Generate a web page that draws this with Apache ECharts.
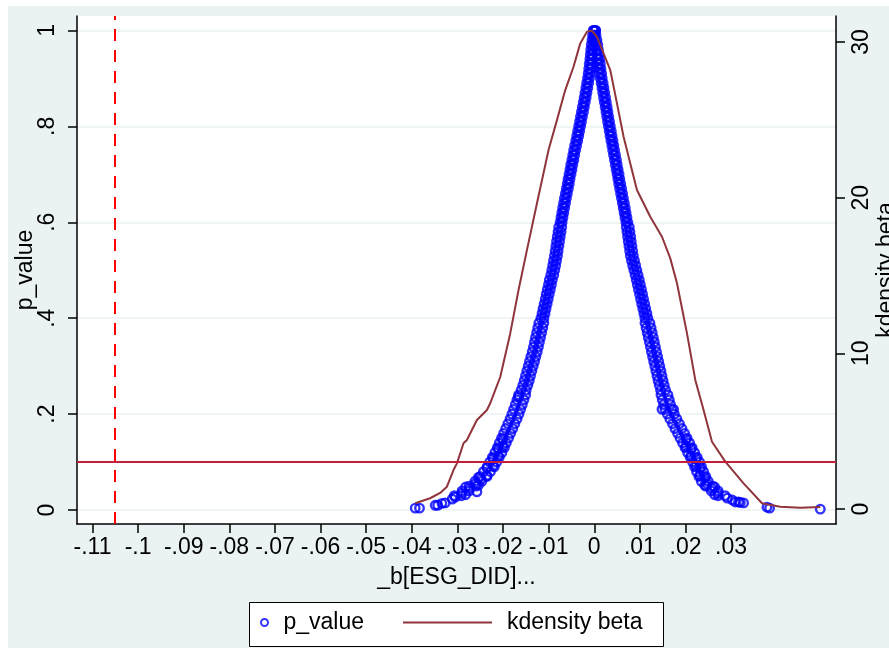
<!DOCTYPE html>
<html>
<head>
<meta charset="utf-8">
<script src="https://cdn.jsdelivr.net/npm/echarts@6/dist/echarts.min.js"></script>
<style>html,body{margin:0;padding:0;background:#fff}#chart{width:889px;height:648px}</style>
</head>
<body>
<div id="chart"></div>
<script>
// ---- axis ticks ----
const xTickValues = [-0.11,-0.1,-0.09,-0.08,-0.07,-0.06,-0.05,-0.04,-0.03,-0.02,-0.01,0,0.01,0.02,0.03];
const xTickLabels = ["-.11","-.1","-.09","-.08","-.07","-.06","-.05","-.04","-.03","-.02","-.01","0",".01",".02",".03"];
const yTickValues = [0,0.2,0.4,0.6,0.8,1];
const yTickLabels = ["0",".2",".4",".6",".8","1"];
const y2TickValues = [0,10,20,30];
const y2TickLabels = ["0","10","20","30"];

// ---- reference lines ----
const betaObserved = -0.1052;
const pCutoff = 0.1;

// ---- p_value scatter ----
const pLevels = [1.00,0.99,0.98,0.97,0.96,0.95,0.94,0.93,0.92,0.91,
0.90,0.89,0.88,0.87,0.86,0.85,0.84,0.83,0.82,0.81,
0.80,0.79,0.78,0.77,0.76,0.75,0.74,0.73,0.72,0.71,
0.70,0.69,0.68,0.67,0.66,0.65,0.64,0.63,0.62,0.61,
0.60,0.59,0.58,0.57,0.56,0.55,0.54,0.53,0.52,0.51,
0.50,0.49,0.48,0.47,0.46,0.45,0.44,0.43,0.42,0.41,
0.40,0.39,0.38,0.37,0.36,0.35,0.34,0.33,0.32,0.31,
0.30,0.29,0.28,0.27,0.26,0.25,0.24,0.23,0.22,0.21,
0.20,0.19,0.18,0.17,0.16,0.15,0.14,0.13,0.12,0.11,
0.10,0.09,0.08,0.07,0.06,0.05,0.04,0.03];
const leftOuterBeta = [-0.00022,-0.00037,-0.00050,-0.00066,-0.00077,-0.00086,-0.00096,-0.00110,-0.00121,-0.00134,
-0.00149,-0.00167,-0.00184,-0.00204,-0.00221,-0.00241,-0.00261,-0.00281,-0.00303,-0.00322,
-0.00342,-0.00364,-0.00384,-0.00406,-0.00430,-0.00452,-0.00471,-0.00491,-0.00515,-0.00533,
-0.00553,-0.00575,-0.00592,-0.00612,-0.00634,-0.00654,-0.00673,-0.00693,-0.00711,-0.00730,
-0.00748,-0.00779,-0.00794,-0.00811,-0.00827,-0.00842,-0.00857,-0.00873,-0.00893,-0.00912,
-0.00932,-0.00954,-0.00985,-0.01004,-0.01029,-0.01053,-0.01075,-0.01099,-0.01123,-0.01145,
-0.01169,-0.01215,-0.01239,-0.01263,-0.01287,-0.01311,-0.01333,-0.01360,-0.01390,-0.01419,
-0.01447,-0.01478,-0.01507,-0.01535,-0.01566,-0.01603,-0.01658,-0.01695,-0.01730,-0.01768,
-0.01805,-0.01846,-0.01895,-0.01941,-0.01987,-0.02033,-0.02081,-0.02125,-0.02178,-0.02235,
-0.02292,-0.02346,-0.02430,-0.02504,-0.02616,-0.02743,-0.02897,-0.03068];
const leftInnerBeta = [0.00022,0.00007,-0.00007,-0.00022,-0.00033,-0.00042,-0.00053,-0.00066,-0.00077,-0.00090,
-0.00105,-0.00123,-0.00140,-0.00160,-0.00178,-0.00197,-0.00217,-0.00237,-0.00259,-0.00279,
-0.00298,-0.00320,-0.00340,-0.00362,-0.00386,-0.00408,-0.00428,-0.00447,-0.00471,-0.00489,
-0.00509,-0.00531,-0.00548,-0.00568,-0.00590,-0.00610,-0.00629,-0.00649,-0.00667,-0.00686,
-0.00704,-0.00713,-0.00728,-0.00746,-0.00761,-0.00776,-0.00792,-0.00807,-0.00827,-0.00846,
-0.00866,-0.00888,-0.00919,-0.00939,-0.00963,-0.00987,-0.01009,-0.01033,-0.01057,-0.01079,
-0.01103,-0.01105,-0.01129,-0.01154,-0.01178,-0.01202,-0.01224,-0.01250,-0.01281,-0.01309,
-0.01338,-0.01368,-0.01397,-0.01425,-0.01456,-0.01493,-0.01504,-0.01542,-0.01577,-0.01614,
-0.01651,-0.01693,-0.01741,-0.01787,-0.01833,-0.01879,-0.01928,-0.01971,-0.02024,-0.02081,
-0.02138,-0.02193,-0.02276,-0.02351,-0.02463,-0.02590,-0.02743,-0.02914];
const rightInnerBeta = [-0.00011,-0.00004,0.00015,0.00033,0.00046,0.00061,0.00075,0.00090,0.00103,0.00118,
0.00132,0.00151,0.00169,0.00186,0.00204,0.00221,0.00239,0.00257,0.00274,0.00292,
0.00309,0.00329,0.00346,0.00366,0.00386,0.00404,0.00423,0.00443,0.00461,0.00480,
0.00500,0.00518,0.00537,0.00557,0.00577,0.00596,0.00616,0.00636,0.00654,0.00673,
0.00693,0.00702,0.00717,0.00732,0.00746,0.00761,0.00776,0.00792,0.00816,0.00842,
0.00868,0.00895,0.00921,0.00945,0.00969,0.00993,0.01015,0.01039,0.01064,0.01088,
0.01110,0.01112,0.01136,0.01160,0.01184,0.01208,0.01232,0.01254,0.01279,0.01303,
0.01327,0.01351,0.01375,0.01399,0.01425,0.01454,0.01463,0.01491,0.01520,0.01550,
0.01603,0.01658,0.01715,0.01770,0.01827,0.01882,0.01936,0.01991,0.02046,0.02103,
0.02156,0.02200,0.02243,0.02294,0.02346,0.02445,0.02564,0.02715];
const rightOuterBeta = [0.00033,0.00039,0.00059,0.00077,0.00090,0.00105,0.00118,0.00134,0.00147,0.00162,
0.00175,0.00195,0.00213,0.00230,0.00248,0.00265,0.00283,0.00300,0.00318,0.00336,
0.00353,0.00373,0.00390,0.00410,0.00430,0.00447,0.00467,0.00487,0.00504,0.00524,
0.00544,0.00561,0.00581,0.00601,0.00621,0.00640,0.00660,0.00680,0.00697,0.00717,
0.00737,0.00768,0.00783,0.00798,0.00811,0.00827,0.00842,0.00857,0.00882,0.00908,
0.00934,0.00961,0.00987,0.01011,0.01035,0.01059,0.01081,0.01105,0.01129,0.01154,
0.01175,0.01221,0.01246,0.01270,0.01294,0.01318,0.01342,0.01364,0.01388,0.01412,
0.01436,0.01461,0.01485,0.01509,0.01535,0.01564,0.01616,0.01645,0.01673,0.01704,
0.01757,0.01811,0.01868,0.01923,0.01980,0.02035,0.02090,0.02145,0.02200,0.02257,
0.02309,0.02353,0.02397,0.02447,0.02500,0.02599,0.02717,0.02868];
const leftExtra = [[-0.02478,0.065],[-0.02603,0.055],[-0.02741,0.045],[-0.02906,0.035],[-0.03048,0.027],
[-0.03114,0.023],[-0.03268,0.015],[-0.03340,0.014],[-0.03432,0.010],[-0.03487,0.010],
[-0.03831,0.004],[-0.03925,0.004],[-0.01660,0.236],[-0.02572,0.038],
[-0.02004,0.148],[-0.02004,0.132],[-0.02101,0.128],[-0.02101,0.112],[-0.02215,0.108],[-0.02215,0.092],
[-0.02353,0.088],[-0.02353,0.072],[-0.02539,0.068],[-0.02539,0.052],[-0.02820,0.048],[-0.02820,0.032]];
const rightExtra = [[0.02471,0.055],[0.02577,0.045],[0.02715,0.035],[0.02917,0.025],[0.03026,0.021],
[0.03092,0.017],[0.03164,0.017],[0.03202,0.016],[0.03274,0.015],[0.03787,0.006],[0.03844,0.004],
[0.04956,0.002],[0.01485,0.210],[0.01739,0.210],
[0.02013,0.148],[0.02013,0.132],[0.02123,0.128],[0.02123,0.112],[0.02232,0.108],[0.02232,0.092],
[0.02320,0.088],[0.02320,0.072],[0.02423,0.068],[0.02423,0.052],[0.02640,0.048],[0.02640,0.032]];

// ---- kdensity beta ----
const kdBeta = [-0.03925,-0.0360,-0.03377,-0.0323,-0.03086,-0.0301,-0.02866,-0.02792,-0.02572,-0.02353,
-0.02281,-0.02171,-0.02061,-0.01842,-0.0166,-0.01476,-0.01257,-0.01002,-0.00818,-0.00636,
-0.00454,-0.00307,-0.0016,-0.0005,0.00059,0.00204,0.00351,0.00498,0.00643,0.0079,
0.00936,0.01228,0.01485,0.01667,0.01814,0.02033,0.02215,0.02397,0.02581,0.02873,
0.03274,0.03678,0.04079,0.04518,0.04956];
const kdDensity = [0.37,0.69,1.03,1.43,2.50,2.93,4.22,4.43,5.72,6.36,
6.79,7.64,8.48,11.28,14.07,16.63,19.63,23.06,24.98,26.91,
28.41,29.91,30.66,30.72,30.33,29.27,28.20,26.06,23.91,22.20,
20.49,18.77,17.49,16.10,14.50,11.28,8.29,6.36,4.32,3.04,
1.65,0.37,0.15,0.08,0.13];

// ---- build ----
const scatterData = [];
pLevels.forEach((p, i) => {
  scatterData.push([leftOuterBeta[i], p], [leftInnerBeta[i], p], [rightInnerBeta[i], p], [rightOuterBeta[i], p]);
});
leftExtra.forEach(d => scatterData.push(d));
rightExtra.forEach(d => scatterData.push(d));
const kdData = kdBeta.map((b, i) => [b, kdDensity[i]]);

const FONT = "'Liberation Sans', Arial, sans-serif";
const FS = 23;
function lookup(values, labels) {
  return v => { for (let i = 0; i < values.length; i++) { if (Math.abs(values[i] - v) < 1e-9) return labels[i]; } return ''; };
}
const axisLineStyle = { color: '#000', width: 1.5 };
const txt = { fontSize: FS, color: '#000', fontFamily: FONT };

const chart = echarts.init(document.getElementById('chart'), null, { renderer: 'canvas' });
chart.setOption({
  animation: false,
  backgroundColor: '#EAF2F3',
  grid: { left: 77, right: 53, top: 16, bottom: 124, show: true, backgroundColor: '#fff', borderWidth: 0, containLabel: false, outerBoundsMode: 'none' },
  graphic: [
    { type: 'rect', shape: { x: 0, y: 0, width: 889, height: 6 }, style: { fill: '#fff' }, silent: true },
    { type: 'rect', shape: { x: 0, y: 0, width: 8, height: 648 }, style: { fill: '#fff' }, silent: true },
    { type: 'rect', shape: { x: 249.5, y: 602.5, width: 414, height: 44 }, style: { fill: '#fff', stroke: '#000', lineWidth: 1 }, silent: true }
  ],
  legend: [
    { data: ['p_value'], left: 260, top: 611, padding: 0, itemWidth: 28, itemHeight: 7, selectedMode: false, textStyle: txt },
    { data: [{ name: 'kdensity beta', icon: 'rect' }], left: 403, top: 611, padding: 0, itemWidth: 89, itemHeight: 2, selectedMode: false,
      itemStyle: { color: '#90353B', borderWidth: 0 }, textStyle: Object.assign({ padding: [0, 0, 0, 10] }, txt) }
  ],
  xAxis: {
    type: 'value', min: -0.1134, max: 0.0530,
    axisLine: { show: true, onZero: false, lineStyle: axisLineStyle },
    axisTick: { show: true, length: 9, customValues: xTickValues, lineStyle: axisLineStyle },
    axisLabel: Object.assign({ customValues: xTickValues, formatter: lookup(xTickValues, xTickLabels), margin: 12 }, txt),
    splitLine: { show: false },
    name: '_b[ESG_DID]...', nameLocation: 'middle', nameGap: 42, nameMoveOverlap: false, nameTextStyle: txt
  },
  yAxis: [
    {
      type: 'value', min: -0.029, max: 1.030, position: 'left',
      axisLine: { show: true, onZero: false, lineStyle: axisLineStyle },
      axisTick: { show: true, length: 9, customValues: yTickValues, lineStyle: axisLineStyle },
      axisLabel: Object.assign({ customValues: yTickValues, formatter: lookup(yTickValues, yTickLabels), rotate: 90, margin: 18 }, txt),
      splitLine: { show: true, lineStyle: { color: '#EAF2F3', width: 1.5 } },
      name: 'p_value', nameLocation: 'middle', nameGap: 40, nameMoveOverlap: false, nameRotate: 90, nameTextStyle: txt
    },
    {
      type: 'value', min: -0.964, max: 31.67, position: 'right',
      axisLine: { show: true, onZero: false, lineStyle: axisLineStyle },
      axisTick: { show: true, length: 9, customValues: y2TickValues, lineStyle: axisLineStyle },
      axisLabel: Object.assign({ customValues: y2TickValues, formatter: lookup(y2TickValues, y2TickLabels), rotate: 90, margin: 14 }, txt),
      splitLine: { show: false },
      name: 'kdensity beta', nameLocation: 'middle', nameGap: 39, nameMoveOverlap: false, nameRotate: 90, nameTextStyle: txt
    }
  ],
  series: [
    {
      name: 'p_value', type: 'scatter', xAxisIndex: 0, yAxisIndex: 0, z: 2,
      symbol: 'circle', symbolSize: 8.5,
      itemStyle: { color: 'rgba(0,0,0,0)', borderColor: '#0000FF', borderWidth: 2.4 },
      data: scatterData,
      markLine: {
        silent: true, symbol: 'none', label: { show: false }, z: 5, precision: 6,
        data: [
          { xAxis: betaObserved, lineStyle: { color: '#FF0000', width: 2, type: [12, 9] } },
          { yAxis: pCutoff, lineStyle: { color: '#C41E3A', width: 2, type: 'solid' } }
        ]
      }
    },
    {
      name: 'kdensity beta', type: 'line', xAxisIndex: 0, yAxisIndex: 1, z: 3,
      symbol: 'none', showSymbol: false, smooth: false,
      lineStyle: { color: '#90353B', width: 2 },
      itemStyle: { color: '#90353B' },
      data: kdData
    }
  ]
});
</script>
</body>
</html>
